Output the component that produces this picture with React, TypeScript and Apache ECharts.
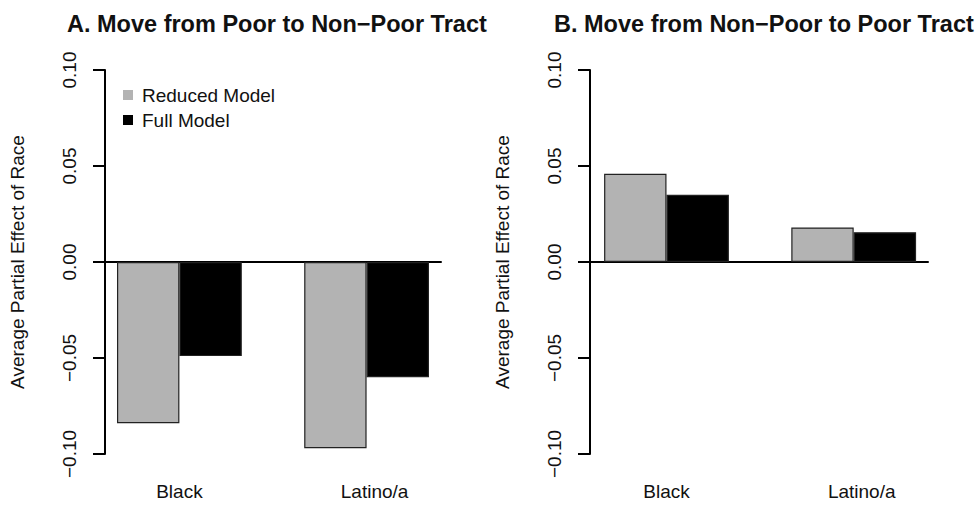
import React, { useEffect, useRef } from "react";
import * as echarts from "echarts";

const categories = ["Black", "Latino/a"];
const seriesNames = ["Reduced Model", "Full Model"];
const panelTitles = [
  "A. Move from Poor to Non\u2212Poor Tract",
  "B. Move from Non\u2212Poor to Poor Tract",
];
const reducedA = [-0.084, -0.097];
const fullA = [-0.049, -0.06];
const reducedB = [0.046, 0.018];
const fullB = [0.035, 0.0155];
const yMin = -0.1;
const yMax = 0.1;
const yInterval = 0.05;
const yTitle = "Average Partial Effect of Race";

const FONT = "'Liberation Sans', Arial, Helvetica, sans-serif";
const TXT = "#111";
const GRAY = "#b3b3b3";

export default function App() {
  const ref = useRef<HTMLDivElement>(null);
  useEffect(() => {
    if (!ref.current) return;
    const chart = echarts.init(ref.current, undefined, { renderer: "svg" });

    const panels = [
      { barLeft: 85.8, axisLeft: 105, axisWidth: 336, titleLeft: 62, red: reducedA, full: fullA },
      { barLeft: 572.9, axisLeft: 590, axisWidth: 338, titleLeft: 549, red: reducedB, full: fullB },
    ];
    const top = 70;
    const height = 384;

    const grids: any[] = [];
    const xAxes: any[] = [];
    const yAxes: any[] = [];
    const series: any[] = [];
    const titles: any[] = [];

    panels.forEach((p, i) => {
      const gBar = grids.length;
      grids.push({ left: p.barLeft, width: 374.4, top, height });
      const gAx = grids.length;
      grids.push({ left: p.axisLeft, width: p.axisWidth, top, height });

      xAxes.push({
        type: "category",
        gridIndex: gBar,
        data: categories,
        axisLine: { show: false },
        axisTick: { show: false },
        axisLabel: {
          margin: 28,
          fontSize: 19,
          fontFamily: FONT,
          color: TXT,
          formatter: (v: string) => (v === "Latino/a" ? "{s|" + v + "}" : v),
          rich: { s: { fontSize: 19, fontFamily: FONT, color: TXT, padding: [0, 0, 0, 16] } },
        },
        splitLine: { show: false },
      });
      yAxes.push({
        type: "value",
        gridIndex: gBar,
        min: yMin,
        max: yMax,
        interval: yInterval,
        show: false,
      });
      xAxes.push({
        type: "value",
        gridIndex: gAx,
        min: 0,
        max: 1,
        axisLine: { show: true, onZero: true, lineStyle: { color: "#000", width: 2 } },
        axisTick: { show: false },
        axisLabel: { show: false },
        splitLine: { show: false },
      });
      yAxes.push({
        type: "value",
        gridIndex: gAx,
        min: yMin,
        max: yMax,
        interval: yInterval,
        name: yTitle,
        nameLocation: "middle",
        nameGap: 78,
        nameTextStyle: { fontSize: 19, fontFamily: FONT, color: TXT },
        axisLine: { show: true, onZero: false, lineStyle: { color: "#000", width: 2 } },
        axisTick: { show: true, length: 12, lineStyle: { color: "#000", width: 2 } },
        axisLabel: {
          rotate: 90,
          margin: 26,
          fontSize: 19,
          fontFamily: FONT,
          color: TXT,
          formatter: (v: number) => v.toFixed(2).replace("-", "\u2212"),
        },
        splitLine: { show: false },
      });

      const xi = i * 2;
      series.push({
        name: seriesNames[0],
        type: "bar",
        xAxisIndex: xi,
        yAxisIndex: xi,
        data: p.red,
        barGap: "0%",
        barCategoryGap: "33.333%",
        itemStyle: { color: GRAY, borderColor: "#222", borderWidth: 1.2 },
      });
      series.push({
        name: seriesNames[1],
        type: "bar",
        xAxisIndex: xi,
        yAxisIndex: xi,
        data: p.full,
        barGap: "0%",
        barCategoryGap: "33.333%",
        itemStyle: { color: "#000", borderColor: "#222", borderWidth: 1.2 },
      });

      titles.push({
        text: panelTitles[i],
        left: p.titleLeft,
        top: 7,
        textStyle: { fontSize: 23.5, fontWeight: "bold", fontFamily: FONT, color: TXT },
      });
    });

    chart.setOption({
      animation: false,
      backgroundColor: "#fff",
      title: titles,
      grid: grids,
      xAxis: xAxes,
      yAxis: yAxes,
      series,
      legend: {
        data: seriesNames,
        orient: "vertical",
        left: 118,
        top: 80,
        icon: "rect",
        itemWidth: 10,
        itemHeight: 10,
        itemGap: 5,
        itemStyle: { borderWidth: 0 },
        textStyle: { fontSize: 19, fontFamily: FONT, color: TXT, lineHeight: 20, padding: [0, 0, 0, 4] },
      },
    });
    return () => chart.dispose();
  }, []);

  return <div ref={ref} style={{ width: 979, height: 506, position: "absolute", left: 0, top: 0 }} />;
}
